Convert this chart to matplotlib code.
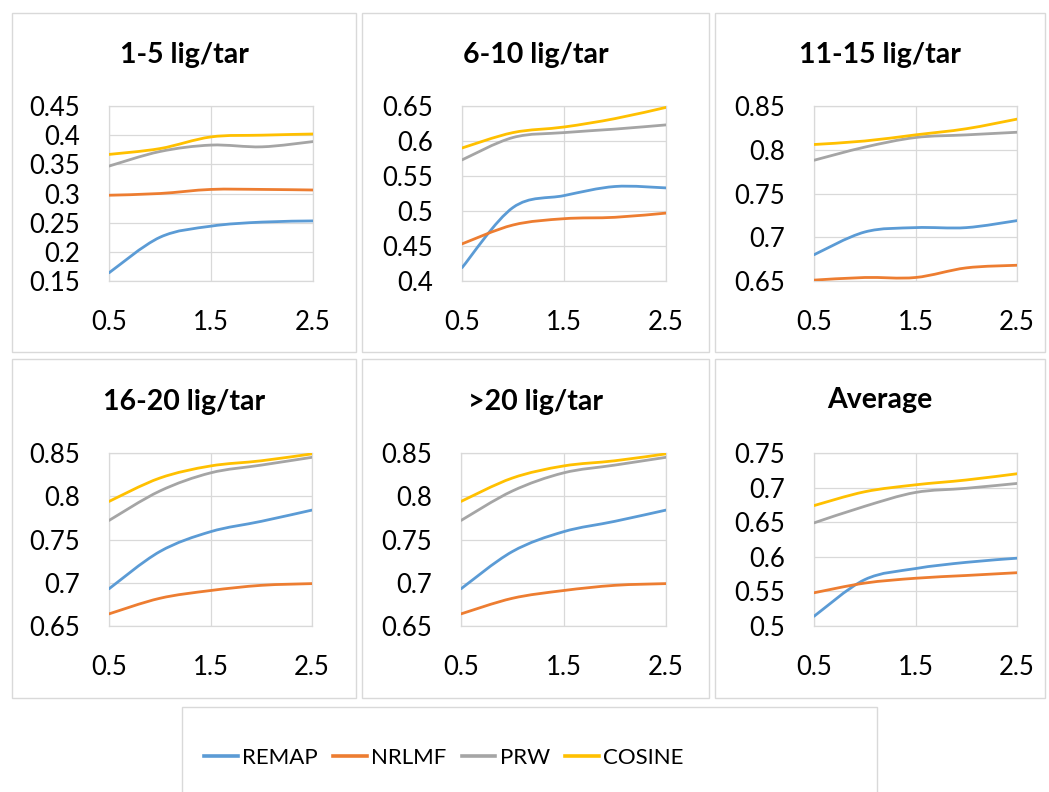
import numpy as np
import matplotlib.pyplot as plt
import matplotlib as mpl
from matplotlib.path import Path
from matplotlib.patches import PathPatch, Rectangle
from matplotlib.lines import Line2D

mpl.rcParams.update({"font.family": ["Lato", "DejaVu Sans"], "font.size": 17})

# x values (shared by all panels)
x = [0.5, 1.0, 1.5, 2.0, 2.5]
methods = ["REMAP", "NRLMF", "PRW", "COSINE"]
colors = ["#5B9BD5", "#ED7D31", "#A5A5A5", "#FFC000"]

titles = ["1-5 lig/tar", "6-10 lig/tar", "11-15 lig/tar",
          "16-20 lig/tar", ">20 lig/tar", "Average"]

# y-axis ranges per panel
ylims = [(0.15, 0.45), (0.4, 0.65), (0.65, 0.85),
         (0.65, 0.85), (0.65, 0.85), (0.5, 0.75)]

# values: REMAP, NRLMF, PRW, COSINE
p1 = [[0.164, 0.225, 0.244, 0.251, 0.253],
      [0.297, 0.300, 0.307, 0.307, 0.306],
      [0.347, 0.372, 0.383, 0.380, 0.389],
      [0.367, 0.377, 0.397, 0.400, 0.402]]
p2 = [[0.419, 0.505, 0.522, 0.535, 0.533],
      [0.453, 0.480, 0.489, 0.491, 0.497],
      [0.573, 0.605, 0.612, 0.617, 0.623],
      [0.590, 0.612, 0.620, 0.632, 0.648]]
p3 = [[0.680, 0.706, 0.711, 0.711, 0.719],
      [0.651, 0.654, 0.654, 0.665, 0.668],
      [0.788, 0.803, 0.814, 0.817, 0.820],
      [0.806, 0.810, 0.817, 0.824, 0.835]]
p4 = [[0.693, 0.736, 0.759, 0.771, 0.784],
      [0.664, 0.682, 0.691, 0.697, 0.699],
      [0.772, 0.806, 0.827, 0.836, 0.845],
      [0.794, 0.821, 0.835, 0.841, 0.849]]
p5 = [[0.693, 0.736, 0.759, 0.771, 0.784],
      [0.664, 0.682, 0.691, 0.697, 0.699],
      [0.772, 0.806, 0.827, 0.836, 0.845],
      [0.794, 0.821, 0.835, 0.841, 0.849]]
p6 = [[0.514, 0.567, 0.583, 0.592, 0.598],
      [0.548, 0.562, 0.569, 0.573, 0.577],
      [0.649, 0.673, 0.693, 0.699, 0.706],
      [0.674, 0.694, 0.704, 0.711, 0.720]]
panels = [p1, p2, p3, p4, p5, p6]

W, H = 1049, 792


def smooth_line(ax, xs, ys, color):
    # Excel-style smoothed line: cubic Bezier segments through the data points
    pts = np.column_stack([xs, ys])
    ext = np.vstack([pts[0], pts, pts[-1]])
    verts, codes = [pts[0]], [Path.MOVETO]
    for i in range(len(pts) - 1):
        c1 = ext[i + 1] + (ext[i + 2] - ext[i]) / 6
        c2 = ext[i + 2] - (ext[i + 3] - ext[i + 1]) / 6
        verts += [c1, c2, ext[i + 2]]
        codes += [Path.CURVE4] * 3
    ax.add_patch(PathPatch(Path(verts, codes), fill=False, edgecolor=color,
                           lw=2.0, capstyle="round", joinstyle="round", zorder=3))


fig = plt.figure(figsize=(W / 100, H / 100), dpi=100)

# panel frames in pixel coords (left, top, right, bottom)
frames = [(12, 13, 356, 352), (362, 13, 709, 352), (715, 13, 1045, 352),
          (12, 359, 356, 698), (362, 359, 709, 698), (715, 359, 1045, 698)]
# plot areas in pixel coords (left, top, right, bottom)
areas = [(109, 106, 313, 281), (462, 106, 666, 281), (814, 106, 1017, 281),
         (109, 453, 312, 626), (461, 453, 666, 626), (814, 453, 1017, 626)]
title_y = [55, 55, 55, 402, 402, 400]

for k in range(6):
    fl, ft, fr, fb = frames[k]
    fig.patches.append(Rectangle((fl / W, 1 - fb / H), (fr - fl) / W, (fb - ft) / H,
                                 transform=fig.transFigure, fill=False,
                                 edgecolor="#D9D9D9", lw=1.0))
    fig.text((fl + fr) / 2 / W, 1 - title_y[k] / H, titles[k], ha="center",
             va="center", fontsize=20.5, fontweight="bold")

    l, t, r, b = areas[k]
    ax = fig.add_axes([l / W, 1 - b / H, (r - l) / W, (b - t) / H])
    for s, c in zip(panels[k], colors):
        smooth_line(ax, x, s, c)
    lo, hi = ylims[k]
    ax.set_xlim(0.5, 2.5)
    ax.set_ylim(lo, hi)
    ax.set_xticks([0.5, 1.5, 2.5])
    ax.set_xticklabels(["0.5", "1.5", "2.5"])
    yt = np.arange(lo, hi + 0.001, 0.05)
    ax.set_yticks(yt)
    ax.set_yticklabels([f"{round(v, 2):g}" for v in yt])
    ax.grid(True, color="#D9D9D9", lw=0.9)
    ax.set_axisbelow(True)
    for sp in ax.spines.values():
        sp.set_color("#D9D9D9")
        sp.set_linewidth(0.9)
    ax.tick_params(axis="both", length=0, labelsize=18.5)
    ax.tick_params(axis="y", pad=21)
    ax.tick_params(axis="x", pad=21)

# legend box
fig.patches.append(Rectangle((182 / W, -0.01), (877 - 182) / W, (792 - 707) / H + 0.01,
                             transform=fig.transFigure, fill=False,
                             edgecolor="#D9D9D9", lw=1.0))
handles = [Line2D([], [], color=c, lw=2.6) for c in colors]
fig.legend(handles, methods, loc="center", bbox_to_anchor=(444 / W, 1 - 758 / H),
           ncol=4, frameon=False, fontsize=16, handlelength=1.5,
           handletextpad=0.2, columnspacing=0.7)

fig.savefig("out.png", dpi=100)
